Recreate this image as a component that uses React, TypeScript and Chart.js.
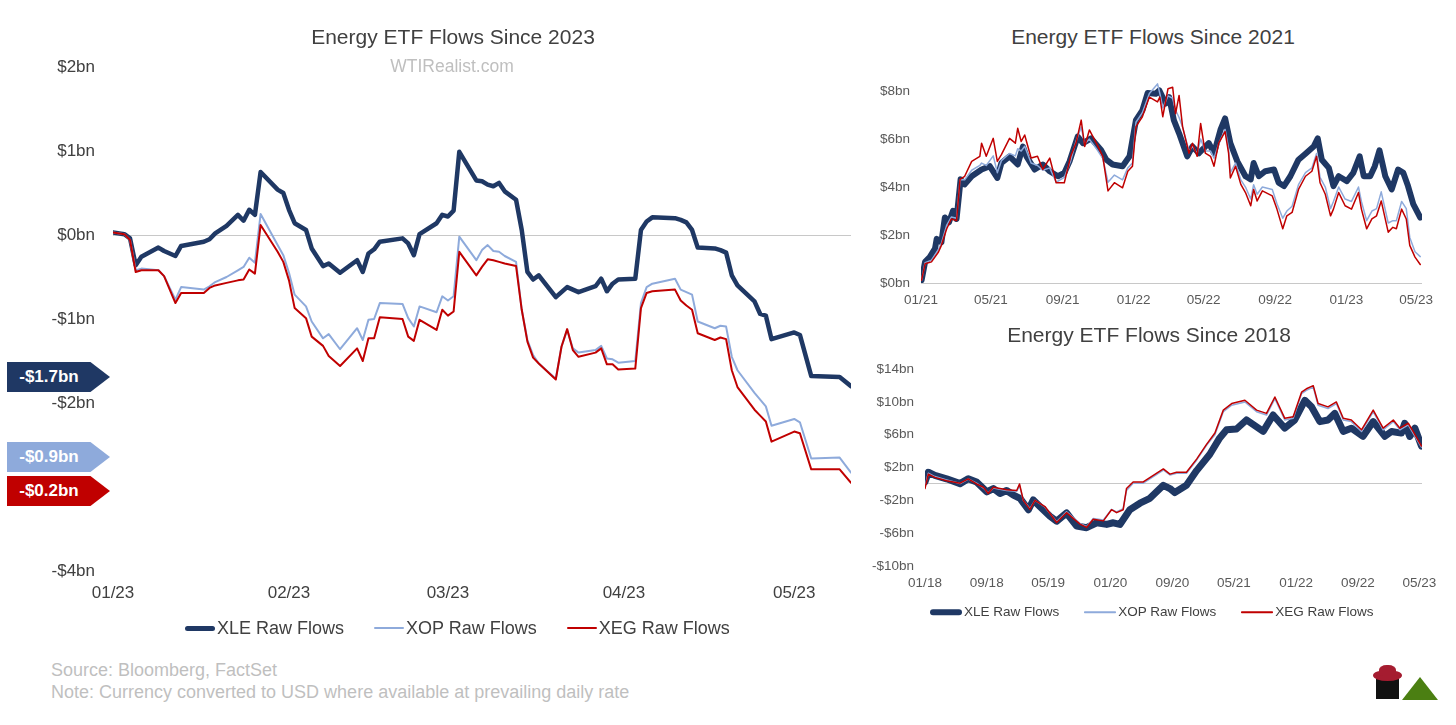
import React, { useEffect, useRef } from "react";
import { Chart, registerables } from "chart.js";
Chart.register(...registerables);

const FONT = '"Liberation Sans", Arial, Helvetica, sans-serif';
const NAVY = "#1f3864";
const LIGHT = "#8eaadb";
const RED = "#c00000";
const TXT = "#404040";
const GREY = "#bfbfbf";

// ---------- Main chart: Energy ETF Flows Since 2023 (day offset from 01/01/2023, $bn) ----------
const ytdDays = [0, 2, 3, 4, 5, 8, 9, 11, 12, 16,
  17, 18, 20, 22, 23, 24, 25, 26, 29, 30,
  31, 32, 34, 35, 37, 38, 40, 43, 44, 45,
  46, 47, 51, 52, 53, 54, 57, 58, 59, 60,
  61, 64, 65, 66, 67, 68, 69, 71, 72, 73,
  74, 75, 78, 79, 80, 81, 82, 85, 86, 87,
  88, 89, 92, 93, 94, 95, 99, 100, 101, 102,
  103, 106, 107, 108, 109, 110, 113, 114, 115, 116,
  120, 121, 123, 128, 130];
const xleYtd = [0.03, 0.01, -0.04, -0.36, -0.26, -0.15, -0.19, -0.25, -0.13, -0.08,
  -0.05, 0.02, 0.11, 0.24, 0.17, 0.30, 0.24, 0.75, 0.54, 0.50,
  0.30, 0.14, 0.06, -0.16, -0.37, -0.34, -0.45, -0.30, -0.44, -0.22,
  -0.17, -0.08, -0.04, -0.10, -0.24, 0.01, 0.14, 0.24, 0.22, 0.29,
  0.99, 0.65, 0.64, 0.60, 0.58, 0.62, 0.52, 0.42, 0.06, -0.44,
  -0.53, -0.48, -0.74, -0.68, -0.62, -0.65, -0.68, -0.61, -0.52, -0.67,
  -0.58, -0.53, -0.52, 0.06, 0.16, 0.21, 0.20, 0.18, 0.15, 0.06,
  -0.15, -0.16, -0.18, -0.21, -0.48, -0.60, -0.79, -0.94, -0.96, -1.24,
  -1.16, -1.19, -1.68, -1.69, -1.80];
const xopYtd = [0.03, 0.01, -0.06, -0.42, -0.40, -0.42, -0.49, -0.77, -0.62, -0.65,
  -0.61, -0.56, -0.50, -0.42, -0.38, -0.27, -0.33, 0.25, -0.12, -0.24,
  -0.45, -0.71, -0.85, -1.03, -1.23, -1.18, -1.36, -1.11, -1.25, -1.01,
  -1.00, -0.81, -0.82, -0.99, -1.09, -0.85, -0.92, -0.73, -0.78, -0.73,
  -0.02, -0.30, -0.18, -0.12, -0.19, -0.20, -0.25, -0.32, -0.89, -1.25,
  -1.43, -1.53, -1.71, -1.33, -1.13, -1.35, -1.40, -1.37, -1.32, -1.47,
  -1.48, -1.52, -1.50, -0.81, -0.62, -0.58, -0.52, -0.65, -0.68, -0.71,
  -1.03, -1.11, -1.08, -1.09, -1.45, -1.61, -1.88, -1.96, -2.04, -2.27,
  -2.19, -2.23, -2.66, -2.65, -2.83];
const xegYtd = [0.03, 0.01, -0.06, -0.44, -0.42, -0.42, -0.49, -0.81, -0.69, -0.69,
  -0.63, -0.60, -0.57, -0.54, -0.53, -0.41, -0.46, 0.12, -0.20, -0.32,
  -0.54, -0.87, -0.99, -1.21, -1.32, -1.44, -1.56, -1.35, -1.50, -1.23,
  -1.23, -0.98, -1.00, -1.21, -1.26, -1.01, -1.13, -0.89, -0.96, -0.91,
  -0.20, -0.48, -0.38, -0.29, -0.30, -0.32, -0.34, -0.37, -0.89, -1.27,
  -1.46, -1.53, -1.72, -1.33, -1.12, -1.37, -1.45, -1.40, -1.35, -1.54,
  -1.54, -1.60, -1.59, -0.87, -0.69, -0.67, -0.65, -0.78, -0.84, -0.89,
  -1.17, -1.25, -1.22, -1.24, -1.61, -1.81, -2.08, -2.15, -2.22, -2.46,
  -2.34, -2.36, -2.79, -2.79, -2.95];
const ytdTickDays = [0, 31, 59, 90, 120];
const ytdTickLabels = ["01/23", "02/23", "03/23", "04/23", "05/23"];
const ytdYTicks = [-4, -3, -2, -1, 0, 1, 2];

// ---------- Top right: Since 2021 (day offset from 01/01/2021) ----------
const xle21Days = [1, 7, 15, 24, 27, 35, 41, 48, 55, 61,
  68, 75, 87, 104, 118, 131, 138, 152, 166, 175,
  181, 195, 209, 221, 235, 246, 255, 269, 278, 292,
  309, 318, 329, 346, 358, 369, 380, 389, 403, 409,
  420, 426, 434, 443, 457, 466, 477, 494, 503, 514,
  522, 531, 543, 557, 566, 571, 580, 591, 606, 614,
  623, 634, 648, 660, 674, 681, 688, 700, 708, 717,
  731, 742, 753, 760, 771, 779, 787, 797, 808, 819,
  828, 836, 845, 857];
const xle21Vals = [0.12, 0.88, 1.08, 1.43, 1.84, 1.70, 2.73, 2.53, 3.01, 2.67,
  4.32, 4.11, 4.45, 4.73, 4.87, 4.38, 5.00, 5.28, 4.94, 5.69,
  5.28, 4.73, 4.94, 4.66, 4.45, 4.59, 5.07, 6.10, 5.83, 6.03,
  5.55, 5.14, 4.94, 4.87, 5.28, 6.79, 7.20, 7.92, 7.89, 8.03,
  7.48, 7.75, 6.79, 6.24, 5.28, 5.69, 5.41, 5.83, 5.41, 6.38,
  6.86, 5.83, 5.07, 4.45, 4.32, 5.00, 4.45, 4.66, 4.73, 4.18,
  4.04, 4.45, 5.14, 5.39, 5.69, 6.03, 5.14, 4.80, 4.04, 4.45,
  4.25, 4.59, 5.28, 4.45, 4.45, 4.87, 5.53, 4.45, 3.90, 4.73,
  4.59, 4.04, 3.29, 2.73];
const oth21Days = [1, 7, 18, 30, 35, 44, 52, 61, 67, 75,
  87, 101, 104, 112, 124, 131, 138, 152, 162, 166,
  172, 178, 189, 200, 209, 221, 232, 246, 257, 266,
  275, 281, 289, 301, 312, 321, 332, 346, 355, 363,
  369, 380, 392, 406, 410, 415, 424, 432, 437, 443,
  449, 460, 466, 474, 480, 488, 497, 503, 511, 522,
  528, 531, 540, 549, 557, 566, 571, 577, 586, 603,
  611, 621, 628, 637, 648, 660, 671, 679, 685, 694,
  703, 708, 717, 728, 739, 751, 756, 765, 774, 782,
  790, 802, 810, 816, 825, 833, 839, 848, 857];
const xop21Vals = [0.12, 0.85, 0.95, 1.40, 1.65, 2.40, 2.75, 2.70, 4.30, 4.30,
  4.70, 4.90, 5.00, 4.90, 5.30, 4.60, 5.10, 5.40, 5.30, 5.60,
  5.50, 5.70, 5.00, 4.90, 4.70, 4.80, 4.20, 4.40, 5.10, 5.90,
  6.50, 5.80, 6.00, 5.60, 5.20, 4.20, 4.50, 4.30, 4.80, 5.00,
  6.70, 7.10, 7.90, 8.30, 7.90, 7.30, 7.80, 7.70, 7.20, 6.90,
  6.50, 5.50, 5.70, 5.40, 6.00, 5.50, 5.50, 5.20, 5.80, 6.40,
  5.60, 4.60, 5.00, 4.30, 4.00, 3.50, 4.10, 3.70, 4.00, 3.90,
  3.30, 2.70, 3.00, 3.20, 4.10, 4.60, 4.80, 5.40, 4.40, 4.00,
  3.10, 3.40, 4.00, 3.50, 3.40, 4.00, 3.40, 2.60, 3.00, 3.10,
  3.80, 2.50, 2.60, 2.60, 3.40, 3.10, 1.90, 1.30, 1.10];
const xeg21Vals = [0.12, 0.80, 0.88, 1.29, 1.57, 2.25, 2.67, 2.60, 4.32, 4.45,
  5.07, 5.28, 5.83, 5.28, 6.03, 5.07, 5.35, 6.03, 5.83, 6.45,
  5.90, 6.17, 5.21, 5.28, 4.73, 5.21, 4.18, 4.18, 5.28, 5.83,
  6.79, 5.69, 6.38, 5.83, 5.28, 3.84, 4.18, 3.97, 4.66, 4.87,
  6.52, 6.93, 7.75, 7.55, 7.75, 6.93, 8.10, 8.16, 7.06, 7.82,
  6.52, 5.41, 5.83, 5.28, 6.65, 5.41, 5.28, 4.87, 5.83, 6.31,
  5.41, 4.38, 4.87, 4.11, 3.77, 3.22, 3.90, 3.42, 3.84, 3.63,
  3.08, 2.26, 2.80, 2.94, 3.90, 4.45, 4.66, 5.28, 4.18, 3.70,
  2.80, 3.08, 3.77, 3.22, 3.08, 3.77, 3.08, 2.26, 2.67, 2.80,
  3.42, 2.12, 2.32, 2.26, 3.08, 2.67, 1.57, 1.08, 0.77];
const tick21Days = [0, 120, 243, 365, 485, 608, 730, 850];
const tick21Labels = ["01/21", "05/21", "09/21", "01/22", "05/22", "09/22", "01/23", "05/23"];
const y21Ticks = [0, 2, 4, 6, 8];

// ---------- Bottom right: Since 2018 (day offset from 01/01/2018) ----------
const xle18Days = [0, 13, 39, 85, 138, 170, 203, 243, 269, 295,
  321, 348, 374, 407, 426, 452, 492, 518, 557, 597,
  636, 676, 715, 741, 767, 806, 846, 885, 938, 964,
  983, 1029, 1069, 1121, 1160, 1187, 1226, 1265, 1331, 1370,
  1416, 1455, 1495, 1521, 1554, 1586, 1613, 1646, 1678, 1724,
  1764, 1810, 1836, 1875, 1888, 1908, 1928, 1954];
const xle18Vals = [0.24, 1.43, 1.04, 0.63, 0.04, 0.63, 0.24, -0.96, -0.56, -1.16,
  -0.80, -1.35, -1.75, -3.14, -1.95, -2.75, -3.94, -4.54, -3.54, -5.13,
  -5.33, -4.73, -4.93, -4.73, -4.94, -3.14, -2.35, -1.75, -0.16, -0.56,
  -1.05, -0.16, 1.63, 3.62, 5.61, 6.60, 6.70, 7.80, 6.41, 8.40,
  6.80, 7.80, 10.19, 9.40, 7.60, 7.80, 8.60, 6.41, 6.80, 5.81,
  7.60, 5.81, 6.40, 6.20, 7.40, 5.80, 6.80, 4.62];
const oth18Days = [0, 13, 39, 85, 138, 170, 203, 230, 249, 269,
  321, 361, 372, 387, 413, 433, 472, 518, 557, 610,
  636, 662, 702, 734, 754, 780, 793, 819, 859, 938,
  964, 990, 1029, 1069, 1108, 1141, 1174, 1207, 1259, 1305,
  1344, 1377, 1416, 1449, 1482, 1501, 1528, 1547, 1586, 1619,
  1646, 1678, 1718, 1764, 1803, 1843, 1869, 1902, 1921, 1954];
const xop18Vals = [-0.30, 1.30, 0.90, 0.50, 0.05, 0.60, 0.10, -0.50, -1.10, -0.50,
  -0.80, -0.90, -0.20, -2.00, -3.00, -2.00, -2.80, -4.60, -3.40, -4.80,
  -5.20, -4.20, -4.40, -3.10, -3.40, -3.00, -0.80, 0.10, 0.10, 1.70,
  1.10, 1.30, 1.30, 2.90, 4.70, 6.00, 8.80, 9.60, 10.00, 8.80,
  8.40, 10.40, 7.80, 8.00, 11.00, 11.40, 11.80, 9.60, 9.20, 9.80,
  7.80, 7.60, 6.40, 8.80, 6.60, 7.60, 6.60, 7.20, 6.20, 4.50];
const xeg18Vals = [-0.56, 1.20, 0.80, 0.40, 0.10, 0.63, 0.00, -0.40, -1.16, -0.40,
  -0.70, -0.80, 0.00, -2.00, -3.10, -2.00, -2.75, -4.70, -3.50, -4.90,
  -5.30, -4.30, -4.50, -3.14, -3.50, -3.14, -0.56, 0.24, 0.24, 1.83,
  1.20, 1.43, 1.43, 3.03, 4.82, 6.21, 9.00, 9.80, 10.20, 9.00,
  8.60, 10.60, 8.00, 8.20, 11.19, 11.60, 11.98, 9.80, 9.40, 10.00,
  8.00, 7.80, 6.60, 9.00, 6.80, 7.80, 6.80, 7.40, 6.40, 4.62];
const tick18Days = [0, 243, 485, 730, 974, 1216, 1461, 1704, 1946];
const tick18Labels = ["01/18", "09/18", "05/19", "01/20", "09/20", "05/21", "01/22", "09/22", "05/23"];
const y18Ticks = [-10, -6, -2, 0, 2, 6, 10, 14];

const seriesNames = ["XLE Raw Flows", "XOP Raw Flows", "XEG Raw Flows"];
const endLabels = ["-$1.7bn", "-$0.9bn", "-$0.2bn"];

const fmtBn = (v: number) => (v < 0 ? `-$${Math.abs(v)}bn` : `$${v}bn`);

type Series = { days: number[]; vals: number[]; color: string; width: number };

type ChartProps = {
  left: number; top: number; width: number; height: number;
  series: Series[];
  xMax: number; xTicks: number[]; xLabels: string[];
  yMin: number; yMax: number; yTicks: number[];
  padTop: number; padRight: number; yWidth: number; xHeight: number;
  fontSize: number; tickColor: string; yPad: number; xPad: number; hideZero?: boolean;
};

function LineChart(p: ChartProps) {
  const ref = useRef<HTMLCanvasElement>(null);
  useEffect(() => {
    const chart = new Chart(ref.current as HTMLCanvasElement, {
      type: "line",
      data: {
        datasets: p.series.map((s) => ({
          data: s.days.map((d, i) => ({ x: d, y: s.vals[i] })),
          borderColor: s.color,
          backgroundColor: s.color,
          borderWidth: s.width,
          pointRadius: 0,
          tension: 0,
          fill: false,
          borderJoinStyle: "round" as const,
          borderCapStyle: "round" as const,
        })),
      },
      options: {
        responsive: false,
        animation: false,
        layout: { padding: { top: p.padTop, right: p.padRight, left: 0, bottom: 0 } },
        plugins: { legend: { display: false }, tooltip: { enabled: false }, title: { display: false } },
        scales: {
          x: {
            type: "linear",
            min: 0,
            max: p.xMax,
            grid: { display: false, drawTicks: false },
            border: { display: false },
            afterBuildTicks: (sc: any) => { sc.ticks = p.xTicks.map((v) => ({ value: v })); },
            afterFit: (sc: any) => { sc.height = p.xHeight; },
            ticks: {
              autoSkip: false, maxRotation: 0, padding: p.xPad, color: p.tickColor,
              font: { size: p.fontSize, family: FONT },
              callback: (_v: any, i: number) => p.xLabels[i],
            },
          },
          y: {
            type: "linear",
            min: p.yMin,
            max: p.yMax,
            grid: {
              drawTicks: false,
              lineWidth: 1,
              color: (c: any) => (c.tick && c.tick.value === 0 ? "#c8c8c8" : "rgba(0,0,0,0)"),
            },
            border: { display: false },
            afterBuildTicks: (sc: any) => { sc.ticks = p.yTicks.map((v) => ({ value: v })); },
            afterFit: (sc: any) => { sc.width = p.yWidth; },
            ticks: {
              padding: p.yPad, color: p.tickColor,
              font: { size: p.fontSize, family: FONT },
              callback: (v: any) => (p.hideZero && v === 0 ? "" : fmtBn(Number(v))),
            },
          },
        },
      },
    } as any);
    return () => chart.destroy();
  }, []);
  return (
    <canvas
      ref={ref}
      width={p.width}
      height={p.height}
      style={{ position: "absolute", left: p.left, top: p.top, width: p.width, height: p.height }}
    />
  );
}

const abs = (x: number, y: number, extra: React.CSSProperties = {}): React.CSSProperties => ({
  position: "absolute", left: x, top: y, whiteSpace: "nowrap", fontFamily: FONT, ...extra,
});

function Centered({ x, y, size, color, children }: { x: number; y: number; size: number; color: string; children: React.ReactNode }) {
  return (
    <div style={abs(x, y, { transform: "translate(-50%,-50%)", fontSize: size, color, lineHeight: 1 })}>{children}</div>
  );
}

function Legend({ x, y, size, widths, gaps, symW }: { x: number; y: number; size: number; widths: number[]; gaps: number; symW: number }) {
  const colors = [NAVY, LIGHT, RED];
  return (
    <div style={abs(x, y, { transform: "translateY(-50%)", display: "flex", alignItems: "center", fontSize: size, color: TXT, lineHeight: 1 })}>
      {seriesNames.map((n, i) => (
        <div key={n} style={{ display: "flex", alignItems: "center", marginRight: i < 2 ? gaps : 0 }}>
          <div style={{ width: symW, height: widths[i], background: colors[i], borderRadius: widths[i] / 2, marginRight: 2 }} />
          <span>{n}</span>
        </div>
      ))}
    </div>
  );
}

function EndTag({ top, color, text }: { top: number; color: string; text: string }) {
  return (
    <div
      style={abs(7, top, {
        width: 103, height: 30, background: color,
        clipPath: "polygon(0 0, 81% 0, 100% 50%, 81% 100%, 0 100%)",
        zIndex: 5,
      })}
    >
      <div style={{ width: 84, height: 30, lineHeight: "30px", textAlign: "center", color: "#fff", fontWeight: 700, fontSize: 17 }}>{text}</div>
    </div>
  );
}

export default function App() {
  return (
    <div style={{ position: "absolute", left: 0, top: 0, width: 1456, height: 725, background: "#fff", overflow: "hidden" }}>
      <LineChart
        left={0} top={0} width={870} height={620}
        series={[
          { days: ytdDays, vals: xegYtd, color: RED, width: 2 },
          { days: ytdDays, vals: xopYtd, color: LIGHT, width: 2 },
          { days: ytdDays, vals: xleYtd, color: NAVY, width: 4.5 },
        ]}
        xMax={130} xTicks={ytdTickDays} xLabels={ytdTickLabels}
        yMin={-4} yMax={2} yTicks={ytdYTicks}
        padTop={67} padRight={19} yWidth={113} xHeight={49}
        fontSize={17} tickColor={TXT} yPad={18} xPad={12}
      />
      <LineChart
        left={860} top={60} width={596} height={260}
        series={[
          { days: oth21Days, vals: xeg21Vals, color: RED, width: 1.5 },
          { days: oth21Days, vals: xop21Vals, color: LIGHT, width: 1.5 },
          { days: xle21Days, vals: xle21Vals, color: NAVY, width: 6 },
        ]}
        xMax={860} xTicks={tick21Days} xLabels={tick21Labels}
        yMin={0} yMax={8.5} yTicks={y21Ticks}
        padTop={17} padRight={34} yWidth={61} xHeight={37}
        fontSize={13.5} tickColor="#595959" yPad={11} xPad={9}
      />
      <LineChart
        left={860} top={350} width={596} height={260}
        series={[
          { days: oth18Days, vals: xeg18Vals, color: RED, width: 1.5 },
          { days: oth18Days, vals: xop18Vals, color: LIGHT, width: 1.5 },
          { days: xle18Days, vals: xle18Vals, color: NAVY, width: 7 },
        ]}
        xMax={1956} xTicks={tick18Days} xLabels={tick18Labels}
        yMin={-10} yMax={14} yTicks={y18Ticks}
        padTop={15} padRight={34} yWidth={65} xHeight={44}
        fontSize={13.5} tickColor="#595959" yPad={11} xPad={9} hideZero
      />

      <Centered x={453} y={36} size={21} color={TXT}>Energy ETF Flows Since 2023</Centered>
      <Centered x={452} y={67} size={17.5} color={GREY}>WTIRealist.com</Centered>
      <Centered x={1153} y={36} size={21} color={TXT}>Energy ETF Flows Since 2021</Centered>
      <Centered x={1149} y={334} size={21} color={TXT}>Energy ETF Flows Since 2018</Centered>

      <EndTag top={362} color={NAVY} text={endLabels[0]} />
      <EndTag top={442} color={LIGHT} text={endLabels[1]} />
      <EndTag top={476} color={RED} text={endLabels[2]} />

      <Legend x={185} y={628} size={18} widths={[5, 2, 2.5]} gaps={30} symW={30} />
      <Legend x={930} y={612} size={13.5} widths={[6, 1.5, 1.5]} gaps={25} symW={32} />

      <div style={abs(51, 659, { fontSize: 18, color: GREY, lineHeight: "22px" })}>
        Source: Bloomberg, FactSet<br />
        Note: Currency converted to USD where available at prevailing daily rate
      </div>

      {/* logo */}
      <div style={abs(1376, 678, { width: 23, height: 21, background: "#111" })} />
      <div style={abs(1373, 670, { width: 29, height: 11, background: "#a51c30", borderRadius: "50%" })} />
      <div style={abs(1379, 665, { width: 17, height: 11, background: "#a51c30", borderRadius: "45% 45% 20% 20%" })} />
      <div style={abs(1402, 677, { width: 0, height: 0, borderLeft: "18px solid transparent", borderRight: "18px solid transparent", borderBottom: "23px solid #4b7f12" })} />
    </div>
  );
}
